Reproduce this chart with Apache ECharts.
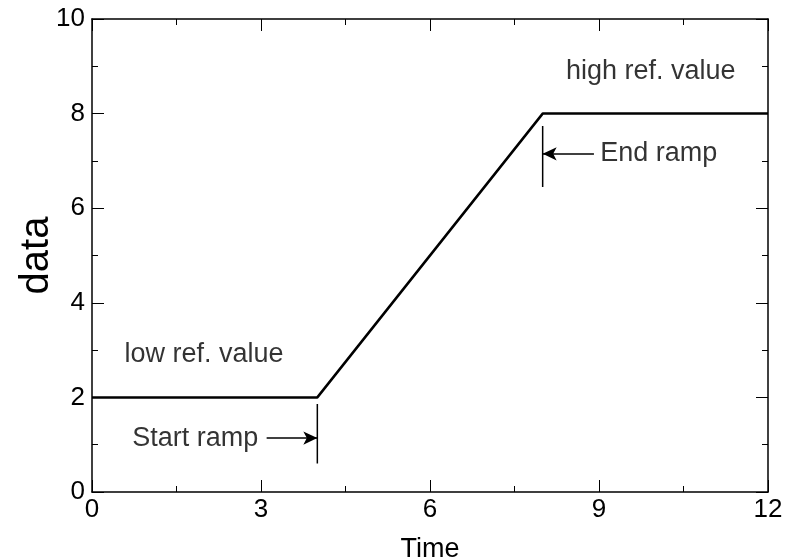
<!DOCTYPE html>
<html><head><meta charset="utf-8">
<script src="https://cdn.jsdelivr.net/npm/echarts@6/dist/echarts.min.js"></script>
<style>html,body{margin:0;padding:0;background:#fff}#c{width:786px;height:560px}</style>
</head><body><div id="c"></div>
<script>
var timeValues = [0, 4, 8, 12];
var dataValues = [2, 2, 8, 8];
var startMarker = [[4, 1.86], [4, 0.6]];
var startArrow = [[3.1, 1.14], [4, 1.14]];
var endMarker = [[8, 7.74], [8, 6.45]];
var endArrow = [[8.91, 7.15], [8, 7.15]];
var annotations = [
  {text: 'high ref. value', pos: [9.92, 8.88], align: 'center'},
  {text: 'low ref. value', pos: [1.99, 2.9], align: 'center'},
  {text: 'Start ramp', pos: [2.95, 1.14], align: 'right'},
  {text: 'End ramp', pos: [9.02, 7.15], align: 'left'}
];
var xTicks = [0, 3, 6, 9, 12];
var yTicks = [0, 2, 4, 6, 8, 10];

var FONT = 'Liberation Sans';
var chart = echarts.init(document.getElementById('c'));
function axisCommon() {
  return {
    axisLine: {show: true, onZero: false, lineStyle: {color: '#000', width: 1.5}},
    axisTick: {show: true, inside: true, length: 12, lineStyle: {color: '#000', width: 1}},
    minorTick: {show: true, splitNumber: 2, length: 6, lineStyle: {color: '#000', width: 1}},
    splitLine: {show: false},
    minorSplitLine: {show: false}
  };
}
chart.setOption({
  animation: false,
  grid: {left: 92, right: 18, top: 19, bottom: 68, containLabel: false, outerBoundsMode: 'none'},
  xAxis: [
    Object.assign({type: 'value', min: 0, max: 12, interval: 3, name: 'Time', nameLocation: 'middle', nameGap: 44,
      nameMoveOverlap: false,
      nameTextStyle: {fontFamily: FONT, fontSize: 27, color: '#000'},
      axisLabel: {fontFamily: FONT, fontSize: 26, color: '#000', margin: 5}}, axisCommon()),
    Object.assign({type: 'value', min: 0, max: 12, interval: 3, position: 'top', axisLabel: {show: false}}, axisCommon())
  ],
  yAxis: [
    Object.assign({type: 'value', min: 0, max: 10, interval: 2, name: 'data', nameLocation: 'middle', nameGap: 35,
      nameMoveOverlap: false,
      nameTextStyle: {fontFamily: FONT, fontSize: 40, color: '#000'},
      axisLabel: {fontFamily: FONT, fontSize: 26, color: '#000', margin: 7}}, axisCommon()),
    Object.assign({type: 'value', min: 0, max: 10, interval: 2, position: 'right', axisLabel: {show: false}}, axisCommon())
  ],
  series: [
    {type: 'line', data: timeValues.map(function(t, i){return [t, dataValues[i]];}), symbol: 'none',
      lineStyle: {color: '#000', width: 2.5}},
    {type: 'line', data: startMarker, symbol: 'none', lineStyle: {color: '#000', width: 1.5}},
    {type: 'line', data: endMarker, symbol: 'none', lineStyle: {color: '#000', width: 1.5}},
    {type: 'line', data: [], markLine: {silent: true, symbol: ['none', 'arrow'], symbolSize: [10, 14],
      lineStyle: {color: '#000', width: 1.5, type: 'solid'}, label: {show: false},
      data: [
        [{coord: startArrow[0]}, {coord: startArrow[1]}],
        [{coord: endArrow[0]}, {coord: endArrow[1]}]
      ]}},
    {type: 'scatter', symbolSize: 0, data: annotations.map(function(a){
      return {value: a.pos, label: {show: true, position: 'inside', formatter: a.text, align: a.align,
        verticalAlign: 'middle', fontFamily: FONT, fontSize: 27, color: '#000'}};
    })}
  ]
});
</script></body></html>
